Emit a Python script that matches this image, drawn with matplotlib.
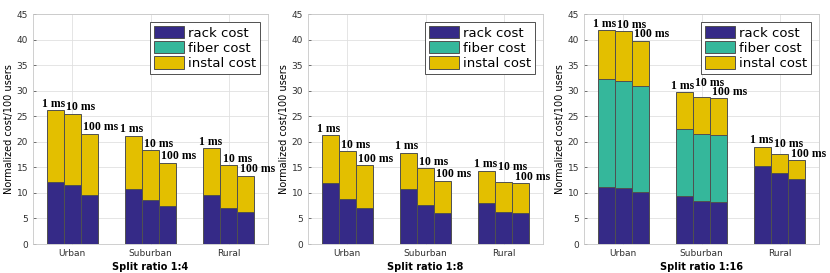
import matplotlib
matplotlib.use("Agg")
import matplotlib.pyplot as plt
import numpy as np

categories = ["Urban", "Suburban", "Rural"]
latencies = ["1 ms", "10 ms", "100 ms"]
panel_titles = ["Split ratio 1:4", "Split ratio 1:8", "Split ratio 1:16"]

# rack cost per [category][latency]
rack_14 = [[12.2, 11.6, 9.5], [10.7, 8.7, 7.5], [9.5, 7.1, 6.2]]
fiber_14 = [[0, 0, 0], [0, 0, 0], [0, 0, 0]]
instal_14 = [[14.0, 13.9, 12.1], [10.5, 9.6, 8.4], [9.2, 8.3, 7.1]]

rack_18 = [[12.0, 8.8, 7.0], [10.8, 7.6, 6.0], [8.0, 6.2, 6.0]]
fiber_18 = [[0, 0, 0], [0, 0, 0], [0, 0, 0]]
instal_18 = [[9.3, 9.3, 8.4], [7.1, 7.2, 6.4], [6.3, 5.9, 5.9]]

rack_116 = [[11.2, 11.0, 10.2], [9.4, 8.5, 8.2], [15.3, 13.9, 12.8]]
fiber_116 = [[21.0, 20.9, 20.8], [13.1, 13.1, 13.1], [0, 0, 0]]
instal_116 = [[9.6, 9.7, 8.8], [7.2, 7.2, 7.2], [3.7, 3.7, 3.6]]

panels = [(rack_14, fiber_14, instal_14), (rack_18, fiber_18, instal_18),
          (rack_116, fiber_116, instal_116)]

c_rack = "#352A87"
c_fiber = "#35B79B"
c_inst = "#E3BF00"
edge = "#505050"

fig = plt.figure(figsize=(8.3, 2.73), dpi=100)
lefts_px = [33, 308, 584]
W, H = 830, 273
ax_w = 235 / W
ax_b = (273 - 244) / H
ax_h = 230 / H

bw = 0.216
for p, (rack, fiber, inst) in enumerate(panels):
    ax = fig.add_axes([lefts_px[p] / W, ax_b, ax_w, ax_h])
    rack = np.array(rack); fiber = np.array(fiber); inst = np.array(inst)
    for ci in range(3):
        tops = rack[ci] + fiber[ci] + inst[ci]
        ys = tops + 0.7
        ys[1] = max(ys[1], ys[2] + 1.8)
        for li in range(3):
            x = ci + 1 + (li - 1) * bw
            r, f, i = rack[ci, li], fiber[ci, li], inst[ci, li]
            ax.bar(x, r, bw, color=c_rack, edgecolor=edge, linewidth=0.7, zorder=3,
                   label="rack cost" if (ci == 0 and li == 0) else None)
            ax.bar(x, f, bw, bottom=r, color=c_fiber, edgecolor=edge, linewidth=0.7, zorder=3,
                   label="fiber cost" if (ci == 0 and li == 0) else None)
            ax.bar(x, i, bw, bottom=r + f, color=c_inst, edgecolor=edge, linewidth=0.7, zorder=3,
                   label="instal cost" if (ci == 0 and li == 0) else None)
            dx = [-0.06, 0.03, 0.03][li]
            ax.text(x - bw / 2 + dx, ys[li], latencies[li], ha="left", va="baseline",
                    fontsize=8.5, fontweight="bold", family="Liberation Serif", zorder=4,
                    clip_on=False)
    ax.set_xlim(0.5, 3.5)
    ax.set_ylim(0, 45)
    ax.set_yticks(np.arange(0, 46, 5))
    ax.set_xticks([1, 2, 3])
    ax.set_xticklabels(categories)
    ax.tick_params(axis="both", labelsize=6.5, colors="#404040", length=2, width=0.5,
                   direction="in", labelcolor="#303030")
    ax.grid(True, color="#e0e0e0", linewidth=0.6, zorder=0)
    for s in ax.spines.values():
        s.set_color("#c8c8c8")
        s.set_linewidth(0.6)
    ax.set_ylabel("Normalized cost/100 users", fontsize=7, labelpad=2)
    ax.set_xlabel(panel_titles[p], fontsize=7, fontweight="bold", labelpad=3)
    leg = ax.legend(loc="upper right", bbox_to_anchor=(0.965, 0.965), fontsize=9.5,
                    handlelength=2.3, handleheight=1.05, handletextpad=0.25,
                    labelspacing=0.12, borderpad=0.3, borderaxespad=0.0,
                    fancybox=False, framealpha=1, edgecolor="#505050")
    leg.get_frame().set_linewidth(0.7)
    for h in leg.legend_handles:
        h.set_edgecolor(edge)

fig.savefig("out.png", dpi=100)
